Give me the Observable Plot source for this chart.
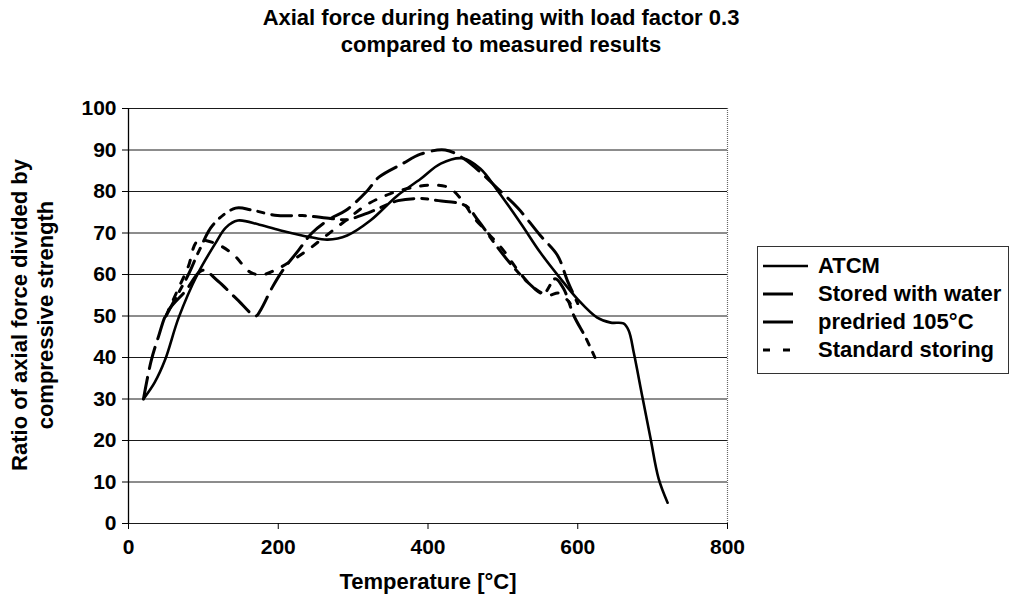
<!DOCTYPE html>
<html><head><meta charset="utf-8">
<script src="https://cdn.jsdelivr.net/npm/d3@7"></script>
<script src="https://cdn.jsdelivr.net/npm/@observablehq/plot@0.6"></script>
<style>
body{margin:0;background:#fff;font-family:"Liberation Sans",Arial,sans-serif;color:#000;}
#wrap{position:relative;width:1009px;height:610px;overflow:hidden;}
#chart{position:absolute;left:0;top:0;}
#chart svg text{font-weight:bold;}
.t{position:absolute;font-weight:bold;white-space:nowrap;}
#title{left:0;width:1002px;top:4px;text-align:center;font-size:22px;line-height:27px;}
#ytitle{left:33px;top:315px;transform:translate(-50%,-50%) rotate(-90deg);text-align:center;font-size:22px;line-height:26px;}
#xtitle{left:428px;top:582px;transform:translate(-50%,-50%);font-size:22px;}
#legend{position:absolute;left:757px;top:246px;width:252px;height:128px;border:1px solid #333;box-sizing:border-box;background:#fff;}
.li{position:absolute;left:5px;height:26px;display:flex;align-items:center;font-weight:bold;font-size:22px;white-space:nowrap;}
.li svg{width:50px;height:10px;margin-right:5px;flex:none;}
</style></head>
<body><div id="wrap">
<div id="chart"></div>
<div class="t" id="title">Axial force during heating with load factor 0.3<br>compared to measured results</div>
<div class="t" id="ytitle">Ratio of axial force divided by<br>compressive strength</div>
<div class="t" id="xtitle">Temperature [°C]</div>
<div id="legend"></div>
</div>
<script>
// Data (temperature °C, ratio)
const seriesNames = ["ATCM", "Stored with water", "predried 105°C", "Standard storing"];
const xTicks = [0, 200, 400, 600, 800];
const yTicks = [0, 10, 20, 30, 40, 50, 60, 70, 80, 90, 100];

const atcm = [[20,30],[35,34],[49,39.5],[67,49.6],[92,60],[116,67.5],[130,71.3],[146,73],[175,72],[206,70.5],[243,69],[266,68.4],[292,69.4],[323,73],[359,79],[390,83],[417,86.7],[446,88],[470,85.5],[493,80.2],[524,72.3],[550,65.3],[577,59],[600,54],[626,49.6],[644,48.4],[661,48.2],[668,46.5],[675,41],[686,30.8],[697,20.7],[708,10.8],[720,5]];

const storedWater = [[20,30],[30,39],[40,45],[52,51],[76,56],[99,61],[119,58.5],[145,54],[170,50],[176,51.3],[192,56.9],[206,61],[227,65.8],[245,70],[270,73.5],[290,75.4],[319,80.2],[334,83.4],[366,86.7],[390,89],[423,90],[447,88],[474,84],[493,80.7],[520,76],[550,69.4],[573,64.6],[586,58.6],[600,53]];

const predried = [[50,50],[65,55],[80,60],[95,66],[113,72],[143,76],[165,75.5],[199,74.2],[232,74.2],[270,73.5],[292,73.2],[310,74.2],[330,75.6],[360,77.8],[390,78.3],[414,77.8],[450,76.6],[467,73],[493,66.5],[513,62],[534,58],[554,55.4],[570,59],[581,56.6],[595,50],[610,45],[623,40]];

const standard = [[50,50],[65,56],[80,62],[92,68],[113,67.7],[139,65],[163,60.5],[180,60],[195,61],[215,63],[240,66],[265,69.5],[290,73],[320,77],[350,79.5],[380,81],[400,81.5],[427,81],[445,78],[460,74],[480,70],[500,66],[520,61],[540,57],[560,55],[575,55.5],[590,53]];

const styles = [
  {w:2.6, dash:null},
  {w:3, dash:"22,9"},
  {w:3, dash:"20,8,6,8"},
  {w:3, dash:"7,11"}
];
const allSeries = [atcm, storedWater, predried, standard];

const marks = [
  Plot.ruleY(yTicks, {stroke:"#1a1a1a", strokeWidth:1}),
  Plot.ruleX([800], {stroke:"#666", strokeWidth:1.2, strokeDasharray:"1,1"}),
  Plot.ruleX([0], {stroke:"#000", strokeWidth:1.3}),
  Plot.axisY({ticks:yTicks, tickSize:6, tickPadding:6, label:null}),
  Plot.axisX({ticks:xTicks, tickSize:6, tickPadding:10, label:null})
];
allSeries.forEach((s, i) => {
  marks.push(Plot.line(s, {x:d=>d[0], y:d=>d[1], curve:"catmull-rom", stroke:"#000", strokeWidth:styles[i].w, strokeDasharray:styles[i].dash}));
});

const chart = Plot.plot({
  width:1009, height:610,
  marginLeft:128, marginRight:282, marginTop:108, marginBottom:87,
  x:{domain:[0,800]}, y:{domain:[0,100]},
  style:{fontFamily:"'Liberation Sans', Arial, sans-serif", fontSize:"21px", color:"#000", background:"transparent"},
  marks
});
document.getElementById("chart").appendChild(chart);

// Legend
const leg = document.getElementById("legend");
const rows = [19, 47, 75, 103];
const swatchLen = [45, 30, 30, 30];
seriesNames.forEach((n, i) => {
  const d = document.createElement("div");
  d.className = "li";
  d.style.top = (rows[i] - 13) + "px";
  const dash = i === 3 ? "7,13" : "none";
  d.innerHTML = `<svg viewBox="0 0 50 10"><line x1="0" y1="5" x2="${swatchLen[i]}" y2="5" stroke="#000" stroke-width="${i===0?2.4:3}" stroke-dasharray="${dash}"/></svg><span>${n}</span>`;
  leg.appendChild(d);
});
</script>
</body></html>
